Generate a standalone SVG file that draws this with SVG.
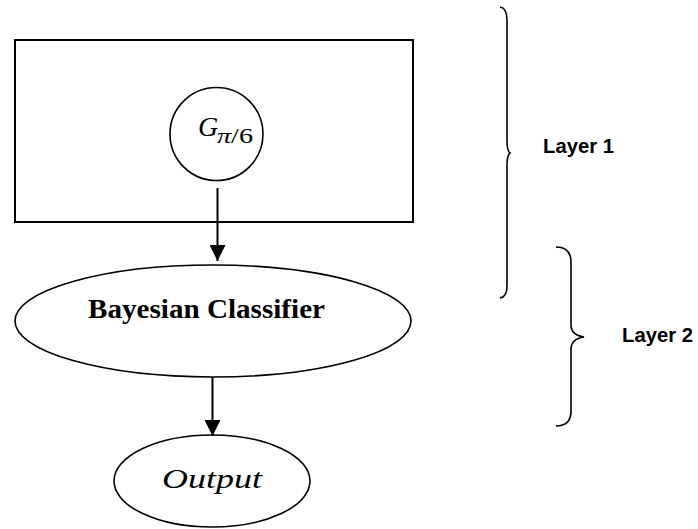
<svg xmlns="http://www.w3.org/2000/svg" width="698" height="529" viewBox="0 0 698 529">
<style>
.ln{fill:none;stroke:#000;stroke-width:2}
.th{fill:none;stroke:#000;stroke-width:1.6}
.lab{font-family:"Liberation Sans",Arial,sans-serif;font-weight:bold;font-size:20px;fill:#000}
.math{font-family:"Liberation Serif","Times New Roman",serif;font-style:italic;fill:#000}
</style>
<defs>
<marker id="ah" viewBox="0 0 16 16" refX="16" refY="8" markerWidth="16" markerHeight="16" markerUnits="userSpaceOnUse" orient="auto">
<path d="M0,0 L16,8 L0,16 Z" fill="#000"/>
</marker>
</defs>
<rect width="698" height="529" fill="#fff"/>
<g id="layer1-box">
<rect class="ln" x="15" y="40" width="398" height="182"/>
</g>
<g id="g-node">
<circle class="th" cx="216.5" cy="134" r="46.5"/>
<text class="math" x="198" y="136" font-size="28">G</text>
<text class="math" x="217" y="143" font-size="21" textLength="36" lengthAdjust="spacingAndGlyphs">π<tspan font-style="normal">/6</tspan></text>
</g>
<g id="bayes">
<ellipse class="th" cx="213" cy="321" rx="198" ry="56"/>
<text x="88" y="318" font-family="'Liberation Serif','Times New Roman',serif" font-weight="bold" font-size="28" textLength="237" lengthAdjust="spacingAndGlyphs">Bayesian Classifier</text>
</g>
<g id="output">
<ellipse class="th" cx="212" cy="481" rx="98" ry="46"/>
<text class="math" x="162" y="488" font-size="28" textLength="100" lengthAdjust="spacingAndGlyphs">Output</text>
</g>
<g id="brace1">
<path class="th" d="M500,7 Q507,8 507,20 L507,140 Q507,151 510,153 Q507,155 507,166 L507,286 Q507,297 500,298"/>
<text class="lab" x="543" y="153" textLength="71" lengthAdjust="spacingAndGlyphs">Layer 1</text>
</g>
<g id="brace2">
<path class="th" d="M556,247 Q571,247 571,262 L571,325 Q571,335 584,337 Q571,339 571,349 L571,411 Q571,426 556,426"/>
<text class="lab" x="622" y="342" textLength="71" lengthAdjust="spacingAndGlyphs">Layer 2</text>
</g>
<g id="connectors">
<line class="ln" x1="217.5" y1="188" x2="217.5" y2="261" marker-end="url(#ah)"/>
<line class="ln" x1="212.5" y1="377" x2="212.5" y2="436" marker-end="url(#ah)"/>
</g>
</svg>
